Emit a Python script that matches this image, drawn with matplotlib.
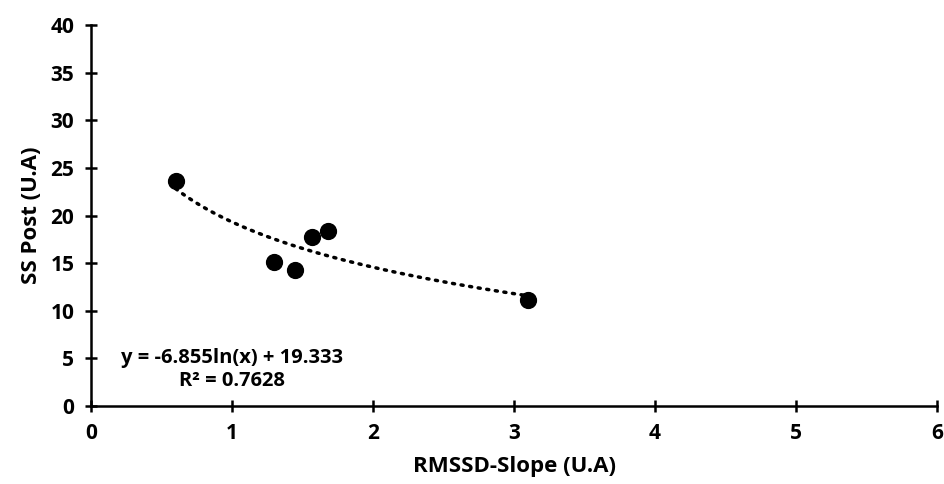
import numpy as np
import matplotlib.pyplot as plt

rmssd_slope = [0.60, 1.30, 1.45, 1.57, 1.68, 3.10]
ss_post = [23.6, 15.1, 14.3, 17.8, 18.4, 11.1]
fit_a = -6.855
fit_b = 19.333
eq_text = 'y = -6.855ln(x) + 19.333'
r2_text = 'R² = 0.7628'

plt.rcParams['font.family'] = ['Open Sans', 'DejaVu Sans']
plt.rcParams['font.weight'] = 'bold'

fig = plt.figure(figsize=(9.44, 4.84), dpi=100)
ax = fig.add_axes([0.0964, 0.161, 0.8962, 0.787])

xs = np.linspace(min(rmssd_slope), max(rmssd_slope), 200)
ax.plot(xs, fit_a * np.log(xs) + fit_b, color='black', lw=2.5, linestyle=(0, (0.6, 1.9)),
        dash_capstyle='round', zorder=2)
ax.scatter(rmssd_slope, ss_post, s=130, color='black', zorder=3)

ax.text(1.0, 5.1, eq_text, ha='center', va='center', fontsize=14.5, fontweight='bold')
ax.text(1.0, 2.6, r2_text, ha='center', va='center', fontsize=14.5, fontweight='bold')

ax.set_xlim(0, 6)
ax.set_ylim(0, 40)
ax.set_xticks(range(0, 7))
ax.set_yticks(range(0, 41, 5))
ax.spines['top'].set_visible(False)
ax.spines['right'].set_visible(False)
ax.spines['left'].set_linewidth(1.8)
ax.spines['bottom'].set_linewidth(1.8)
ax.tick_params(direction='inout', length=8, width=1.8, labelsize=15, pad=8)
for lab in ax.get_xticklabels() + ax.get_yticklabels():
    lab.set_fontweight('bold')
ax.set_xlabel('RMSSD-Slope (U.A)', fontsize=16, fontweight='bold', labelpad=9)
ax.set_ylabel('SS Post (U.A)', fontsize=16, fontweight='bold', labelpad=6)

plt.savefig('out.png', dpi=100)
